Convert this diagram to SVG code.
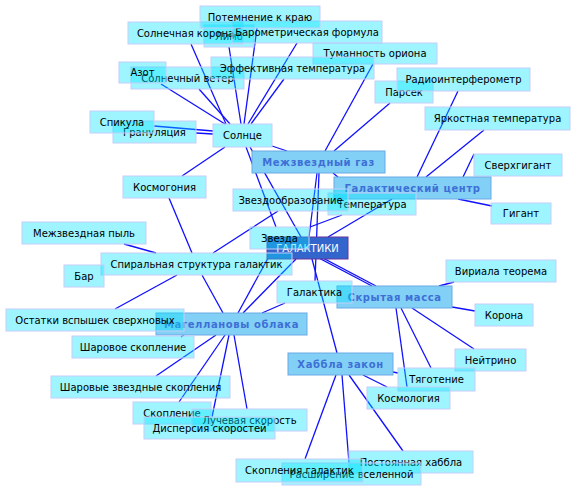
<svg xmlns="http://www.w3.org/2000/svg" width="576" height="491" viewBox="0 0 576 491">
<style>
.n rect{fill:#00e5ff;fill-opacity:.38;stroke:#c6cdfa;stroke-width:1}
text{font-family:"DejaVu Sans","Liberation Sans",sans-serif;font-size:10px;fill:#000;text-anchor:middle}
.m rect{fill:#82d0f5;fill-opacity:1;stroke:#6aa9e6}
.m text{font-weight:bold;fill:#3d6fd6;letter-spacing:0.6px}
.c rect{fill:#3366cc;fill-opacity:1;stroke:#663399}
.c text{fill:#fff}
#edges line{stroke:#1010ff;stroke-width:1.3}
</style>
<rect width="576" height="491" fill="#fff"/>
<g id="edges">
<line x1="191" y1="44" x2="226" y2="124"/>
<line x1="229" y1="47" x2="241" y2="124"/>
<line x1="257" y1="28" x2="244" y2="124"/>
<line x1="297" y1="43" x2="248" y2="124"/>
<line x1="284" y1="79" x2="251" y2="124"/>
<line x1="199" y1="89" x2="230" y2="124"/>
<line x1="161" y1="84" x2="225" y2="124"/>
<line x1="154" y1="126" x2="213" y2="131"/>
<line x1="196" y1="133" x2="213" y2="134"/>
<line x1="225" y1="147" x2="182" y2="176"/>
<line x1="272" y1="146" x2="287" y2="151"/>
<line x1="246" y1="147" x2="276" y2="227"/>
<line x1="250" y1="147" x2="301" y2="237"/>
<line x1="373" y1="64" x2="325" y2="151"/>
<line x1="390" y1="103" x2="334" y2="151"/>
<line x1="317" y1="173" x2="309" y2="237"/>
<line x1="319" y1="173" x2="315" y2="281"/>
<line x1="333" y1="173" x2="357" y2="193"/>
<line x1="458" y1="91" x2="417" y2="177"/>
<line x1="484" y1="130" x2="426" y2="177"/>
<line x1="474" y1="154" x2="463" y2="177"/>
<line x1="492" y1="206" x2="458" y2="199"/>
<line x1="392" y1="199" x2="328" y2="237"/>
<line x1="342" y1="215" x2="310" y2="227"/>
<line x1="278" y1="211" x2="213" y2="253"/>
<line x1="169" y1="198" x2="192" y2="253"/>
<line x1="124" y1="244" x2="156" y2="253"/>
<line x1="115" y1="309" x2="177" y2="275"/>
<line x1="202" y1="275" x2="223" y2="313"/>
<line x1="273" y1="249" x2="238" y2="313"/>
<line x1="296" y1="259" x2="243" y2="313"/>
<line x1="285" y1="303" x2="262" y2="313"/>
<line x1="181" y1="337" x2="185" y2="334"/>
<line x1="156" y1="376" x2="216" y2="335"/>
<line x1="179" y1="402" x2="225" y2="335"/>
<line x1="247" y1="409" x2="234" y2="335"/>
<line x1="212" y1="417" x2="229" y2="335"/>
<line x1="298" y1="247" x2="372" y2="286"/>
<line x1="302" y1="247" x2="376" y2="286"/>
<line x1="312" y1="259" x2="337" y2="353"/>
<line x1="439" y1="286" x2="454" y2="282"/>
<line x1="452" y1="307" x2="475" y2="311"/>
<line x1="412" y1="308" x2="474" y2="349"/>
<line x1="401" y1="308" x2="431" y2="368"/>
<line x1="396" y1="308" x2="407" y2="387"/>
<line x1="393" y1="372" x2="398" y2="373"/>
<line x1="363" y1="375" x2="387" y2="387"/>
<line x1="349" y1="375" x2="403" y2="451"/>
<line x1="342" y1="375" x2="349" y2="463"/>
<line x1="336" y1="375" x2="305" y2="459"/>
</g>
<g id="limb" class="n"><rect x="204" y="25" width="50" height="22"/><text x="229" y="39.5">Лимб</text></g>
<g id="korona" class="n"><rect x="128" y="22" width="115" height="22"/><text x="185.5" y="36.5">Солнечная корона</text></g>
<g id="barometr" class="n"><rect x="232" y="21" width="150" height="22"/><text x="307" y="35.5">Барометрическая формула</text></g>
<g id="potemnenie" class="n"><rect x="200" y="6" width="120" height="22"/><text x="260" y="20.5">Потемнение к краю</text></g>
<g id="tumannost" class="n"><rect x="313" y="43" width="124" height="21"/><text x="375" y="57">Туманность ориона</text></g>
<g id="veter" class="n"><rect x="131" y="67" width="113" height="22"/><text x="187.5" y="81.5">Солнечный ветер</text></g>
<g id="effektivnaya" class="n"><rect x="211" y="57" width="163" height="22"/><text x="292.5" y="71.5">Эффективная температура</text></g>
<g id="azot" class="n"><rect x="119" y="62" width="47" height="21"/><text x="142.5" y="76">Азот</text></g>
<g id="granulyaciya" class="n"><rect x="113" y="121" width="83" height="22"/><text x="154.5" y="135.5">Грануляция</text></g>
<g id="spikula" class="n"><rect x="90" y="111" width="64" height="22"/><text x="122" y="125.5">Спикула</text></g>
<g id="solnce" class="n"><rect x="213" y="124" width="59" height="23"/><text x="242.5" y="139">Солнце</text></g>
<g id="parsek" class="n"><rect x="375" y="81" width="58" height="22"/><text x="404" y="95.5">Парсек</text></g>
<g id="radio" class="n"><rect x="397" y="68" width="133" height="23"/><text x="463.5" y="83">Радиоинтерферометр</text></g>
<g id="yarkostnaya" class="n"><rect x="425" y="107" width="145" height="23"/><text x="497.5" y="122">Яркостная температура</text></g>
<g id="gaz" class="m"><rect x="252" y="151" width="133" height="22"/><text x="318.5" y="165.5">Межзвездный газ</text></g>
<g id="sverhgigant" class="n"><rect x="474" y="154" width="88" height="22"/><text x="518" y="168.5">Сверхгигант</text></g>
<g id="centr" class="m"><rect x="334" y="177" width="157" height="22"/><text x="412.5" y="191.5">Галактический центр</text></g>
<g id="gigant" class="n"><rect x="491" y="203" width="60" height="21"/><text x="521" y="217">Гигант</text></g>
<g id="temperatura" class="n"><rect x="328" y="193" width="88" height="22"/><text x="372" y="207.5">Температура</text></g>
<g id="zvezdoobr" class="n"><rect x="233" y="189" width="115" height="22"/><text x="290.5" y="203.5">Звездообразование</text></g>
<g id="kosmogoniya" class="n"><rect x="123" y="176" width="83" height="22"/><text x="164.5" y="190.5">Космогония</text></g>
<g id="pyl" class="n"><rect x="22" y="222" width="124" height="22"/><text x="84" y="236.5">Межзвездная пыль</text></g>
<g id="galaktiki" class="c"><rect x="267" y="237" width="81" height="22"/><text x="307.5" y="251.5">ГАЛАКТИКИ</text></g>
<g id="zvezda" class="n"><rect x="250" y="227" width="59" height="22"/><text x="279.5" y="241.5">Звезда</text></g>
<g id="spiral" class="n"><rect x="101" y="253" width="191" height="22"/><text x="196.5" y="267.5">Спиральная структура галактик</text></g>
<g id="bar" class="n"><rect x="64" y="265" width="40" height="22"/><text x="84" y="279.5">Бар</text></g>
<g id="skrytaya" class="m"><rect x="337" y="286" width="115" height="22"/><text x="394.5" y="300.5">Скрытая масса</text></g>
<g id="galaktika" class="n"><rect x="277" y="281" width="75" height="22"/><text x="314.5" y="295.5">Галактика</text></g>
<g id="viriala" class="n"><rect x="446" y="260" width="110" height="22"/><text x="501" y="274.5">Вириала теорема</text></g>
<g id="korona2" class="n"><rect x="475" y="304" width="58" height="22"/><text x="504" y="318.5">Корона</text></g>
<g id="neytrino" class="n"><rect x="455" y="349" width="71" height="22"/><text x="490.5" y="363.5">Нейтрино</text></g>
<g id="magellan" class="m"><rect x="156" y="313" width="151" height="22"/><text x="231.5" y="327.5">Магеллановы облака</text></g>
<g id="ostatki" class="n"><rect x="6" y="309" width="178" height="22"/><text x="95" y="323.5">Остатки вспышек сверхновых</text></g>
<g id="sharovoe" class="n"><rect x="72" y="336" width="122" height="22"/><text x="133" y="350.5">Шаровое скопление</text></g>
<g id="sharovye" class="n"><rect x="51" y="376" width="179" height="22"/><text x="140.5" y="390.5">Шаровые звездные скопления</text></g>
<g id="skoplenie" class="n"><rect x="133" y="402" width="78" height="22"/><text x="172" y="416.5">Скопление</text></g>
<g id="luchevaya" class="n"><rect x="192" y="409" width="115" height="22"/><text x="249.5" y="423.5">Лучевая скорость</text></g>
<g id="dispersiya" class="n"><rect x="144" y="417" width="131" height="22"/><text x="209.5" y="431.5">Дисперсия скоростей</text></g>
<g id="habbl" class="m"><rect x="288" y="353" width="105" height="22"/><text x="340.5" y="367.5">Хаббла закон</text></g>
<g id="tyagotenie" class="n"><rect x="398" y="368" width="77" height="23"/><text x="436.5" y="383">Тяготение</text></g>
<g id="kosmologiya" class="n"><rect x="367" y="387" width="83" height="22"/><text x="408.5" y="401.5">Космология</text></g>
<g id="postoyannaya" class="n"><rect x="349" y="451" width="124" height="22"/><text x="411" y="465.5">Постоянная хаббла</text></g>
<g id="rasshirenie" class="n"><rect x="282" y="463" width="139" height="22"/><text x="351.5" y="477.5">Расширение вселенной</text></g>
<g id="skopleniya" class="n"><rect x="236" y="459" width="127" height="23"/><text x="299.5" y="474">Скопления галактик</text></g>
</svg>
